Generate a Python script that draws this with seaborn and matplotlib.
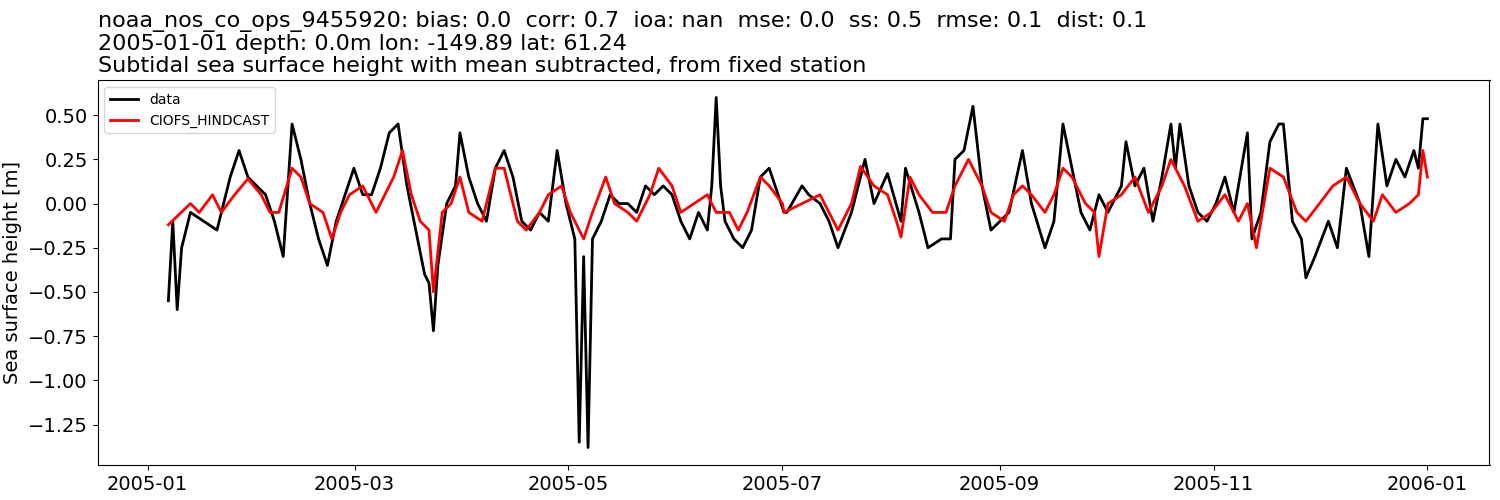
import numpy as np
import pandas as pd
import seaborn as sns
import matplotlib
matplotlib.use("Agg")
import matplotlib.pyplot as plt

# values [m] read off the reference, sampled at reading positions
# first half (Jan - early Jul) and second half (Jul - Dec) were read separately,
# positions are converted to days since 2005-01-01 below
data_pos_a = [1, 2, 3, 4, 6, 9, 12, 15, 17, 19, 21, 23, 25, 27, 29, 31, 33, 35, 37, 39,
              41, 43, 45, 47, 49, 51, 53, 55, 57, 59, 60, 61, 62, 64, 66, 67, 69, 71, 73, 75,
              77, 79, 81, 83, 85, 87, 89, 91, 93, 94, 95, 96, 97, 99, 101, 103, 105, 107, 109, 111,
              113, 115, 117, 119, 121, 123, 124, 125, 126, 127, 129, 131, 133, 135, 137, 139, 141]
data_vals_a = [-0.55, -0.1, -0.6, -0.25, -0.05, -0.1, -0.15, 0.15, 0.3, 0.15, 0.1, 0.05, -0.1, -0.3, 0.45, 0.25, 0.0, -0.2, -0.35, -0.1,
               0.05, 0.2, 0.05, 0.05, 0.2, 0.4, 0.45, 0.1, -0.15, -0.4, -0.45, -0.72, -0.35, 0.0, 0.1, 0.4, 0.15, 0.0, -0.1, 0.2,
               0.3, 0.15, -0.1, -0.15, -0.05, -0.1, 0.3, 0.0, -0.2, -1.35, -0.3, -1.38, -0.2, -0.1, 0.05, 0.0, 0.0, -0.05, 0.1, 0.05,
               0.1, 0.05, -0.1, -0.2, -0.05, -0.15, 0.1, 0.60, 0.1, -0.1, -0.2, -0.25, -0.15, 0.15, 0.2, 0.05, -0.05]
data_pos_b = [195, 199, 200.5, 203, 205, 207, 210, 213, 215, 218, 221, 222, 225, 227, 230, 232,
              233, 235, 237, 239, 241, 243, 245, 248, 250, 253, 255, 257, 259, 261, 263, 265, 267,
              270, 271, 273, 275, 277, 279, 281, 282, 283, 285, 287, 289, 291, 293, 295, 298, 299,
              301, 303, 305, 306, 308, 310, 311, 313, 316, 318, 320, 323, 325, 327, 329, 331, 333,
              335, 336, 337, 338]
data_vals_b = [-0.05, 0.1, 0.05, 0.0, -0.1, -0.25, -0.05, 0.25, 0.0, 0.17, -0.1, 0.2, -0.05, -0.25, -0.2, -0.2,
               0.25, 0.3, 0.55, 0.1, -0.15, -0.1, -0.05, 0.3, 0.0, -0.25, -0.1, 0.45, 0.2, -0.05, -0.15, 0.05, -0.05,
               0.1, 0.35, 0.1, 0.2, -0.1, 0.15, 0.45, 0.2, 0.45, 0.1, -0.05, -0.1, 0.0, 0.15, -0.05, 0.4, -0.2,
               -0.05, 0.35, 0.45, 0.45, -0.1, -0.2, -0.42, -0.3, -0.1, -0.25, 0.2, 0.0, -0.3, 0.45, 0.1, 0.25, 0.15,
               0.3, 0.2, 0.48, 0.48]

model_pos_a = [1, 6, 8, 11, 13, 16, 19, 22, 24, 26, 29, 31, 33, 36, 38, 40, 42, 45, 48, 50,
               52, 54, 56, 58, 60, 61, 63, 65, 67, 69, 72, 75, 77, 80, 82, 85, 87, 90, 92, 95,
               97, 100, 102, 105, 107, 110, 112, 115, 117, 120, 123, 125, 128, 130, 132, 135, 137, 140]
model_vals_a = [-0.12, 0.0, -0.05, 0.05, -0.05, 0.05, 0.14, 0.05, -0.05, -0.05, 0.2, 0.15, 0.0, -0.05, -0.2, -0.05, 0.05, 0.1, -0.05, 0.05,
                0.15, 0.3, 0.05, -0.1, -0.15, -0.5, -0.05, 0.0, 0.15, -0.05, -0.1, 0.2, 0.2, -0.1, -0.15, -0.05, 0.05, 0.1, -0.05, -0.2,
                -0.05, 0.15, 0.0, -0.05, -0.1, 0.05, 0.2, 0.1, -0.05, 0.0, 0.05, -0.05, -0.05, -0.15, -0.05, 0.15, 0.1, 0.0]
model_pos_b = [195, 199, 203, 205, 207, 210, 212, 215, 218, 220, 221, 223, 225, 228, 231, 233, 236, 239,
               241, 244, 246, 248, 250, 253, 255, 257, 259, 262, 264, 265, 267, 270, 273, 276, 279, 281,
               284, 287, 290, 293, 296, 298, 300, 303, 306, 309, 311, 314, 317, 320, 323, 326, 328, 331,
               334, 336, 337, 338]
model_vals_b = [-0.05, 0.0, 0.05, -0.05, -0.15, 0.0, 0.21, 0.1, 0.05, -0.1, -0.19, 0.15, 0.05, -0.05, -0.05, 0.1, 0.25, 0.1,
                -0.05, -0.1, 0.05, 0.1, 0.05, -0.05, 0.05, 0.2, 0.15, 0.0, -0.05, -0.3, 0.0, 0.05, 0.15, -0.05, 0.1, 0.25,
                0.1, -0.1, -0.05, 0.05, -0.1, 0.0, -0.25, 0.2, 0.15, -0.05, -0.1, 0.0, 0.1, 0.15, 0.0, -0.1, 0.05, -0.05,
                0.0, 0.05, 0.3, 0.15]


def to_days_a(p):
    return 4.65 + 1.26 * np.asarray(p)


def to_days_b(p):
    return (4.5 * np.asarray(p) - 241) / 3.507


start = pd.Timestamp("2005-01-01")


def frame(pos_a, vals_a, pos_b, vals_b):
    days = np.concatenate([to_days_a(pos_a), to_days_b(pos_b)])
    return pd.DataFrame({"time": start + pd.to_timedelta(days, unit="D"),
                         "ssh": vals_a + vals_b})


df_data = frame(data_pos_a, data_vals_a, data_pos_b, data_vals_b)
df_model = frame(model_pos_a, model_vals_a, model_pos_b, model_vals_b)

fig, ax = plt.subplots(figsize=(15, 5), dpi=100)
sns.lineplot(data=df_data, x="time", y="ssh", color="k", lw=2, label="data", ax=ax)
sns.lineplot(data=df_model, x="time", y="ssh", color="r", lw=2, label="CIOFS_HINDCAST", ax=ax)

ax.set_xlim(start - pd.Timedelta(days=14.3), start + pd.Timedelta(days=382.7))
ax.set_xticks(pd.to_datetime(["2005-01-01", "2005-03-01", "2005-05-01", "2005-07-01",
                              "2005-09-01", "2005-11-01", "2006-01-01"]))
ax.xaxis.set_major_formatter(matplotlib.dates.DateFormatter("%Y-%m"))
ax.set_yticks([0.5, 0.25, 0, -0.25, -0.5, -0.75, -1.0, -1.25])
ax.tick_params(labelsize=14)
ax.set_xlabel("")
ax.set_ylabel("Sea surface height [m]", fontsize=14)
ax.set_title("noaa_nos_co_ops_9455920: bias: 0.0  corr: 0.7  ioa: nan  mse: 0.0  ss: 0.5  rmse: 0.1  dist: 0.1\n"
             "2005-01-01 depth: 0.0m lon: -149.89 lat: 61.24\n"
             "Subtidal sea surface height with mean subtracted, from fixed station",
             loc="left", fontsize=16, linespacing=1.1)
ax.legend(loc="upper left", fontsize=10)

fig.subplots_adjust(left=0.065, right=0.993, top=0.84, bottom=0.07)
fig.savefig("out.png")
